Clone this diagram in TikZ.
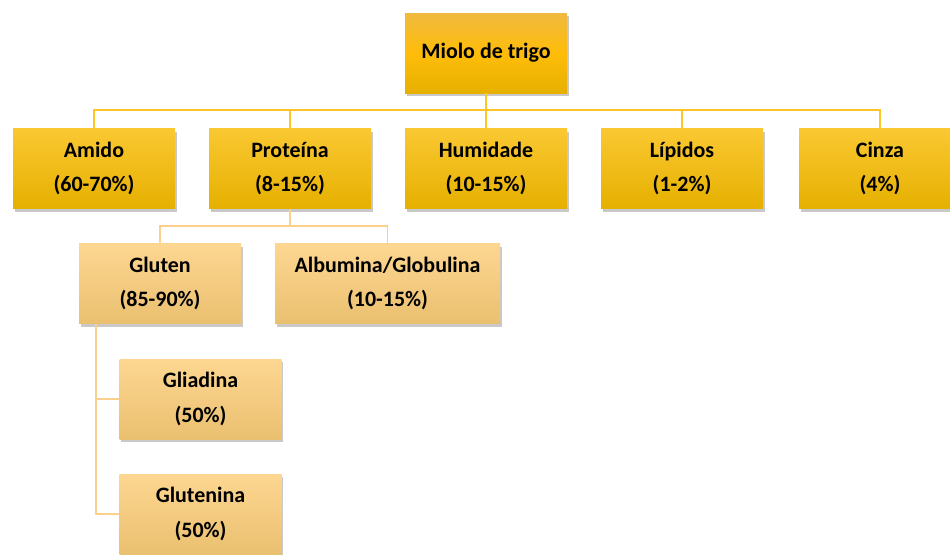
\documentclass[tikz,border=0pt]{standalone}
\usepackage{fontspec}
\setmainfont{Carlito}
\usetikzlibrary{positioning,shadows}
\definecolor{goldtop}{RGB}{250,200,50}
\definecolor{goldmid}{RGB}{255,192,10}
\definecolor{goldbot}{RGB}{230,176,0}
\definecolor{roottop}{RGB}{240,186,64}
\definecolor{paletop}{RGB}{253,214,145}
\definecolor{palemid}{RGB}{252,210,135}
\definecolor{palebot}{RGB}{234,192,112}
\definecolor{linegold}{RGB}{255,196,40}
\definecolor{linepale}{RGB}{250,208,140}

\begin{document}
\begin{tikzpicture}[
    every node/.style={font=\bfseries\fontsize{12.5}{19.5}\selectfont, align=center},
    boxA/.style={minimum width=3.24cm, minimum height=1.6cm, inner sep=0pt,
      top color=goldtop, middle color=goldmid, bottom color=goldbot,
      drop shadow={shadow xshift=0.03cm, shadow yshift=-0.06cm, opacity=0.3, fill=black!70}},
    rootbox/.style={boxA, top color=roottop, middle color=goldmid!95!orange},
    boxB/.style={boxA, top color=paletop, middle color=palemid, bottom color=palebot},
    lnA/.style={draw=linegold, line width=1pt},
    lnB/.style={draw=linepale, line width=1pt}
  ]
  \useasboundingbox (0,0) rectangle (19,-11.08);

  % top level
  \node[rootbox] (miolo) at (9.72,-1.06) {Miolo de trigo};

  % composition
  \node[boxA] (amido)   at (1.88,-3.37)  {Amido\\(60-70\%)};
  \node[boxA] (prot)    at (5.80,-3.37)  {Proteína\\(8-15\%)};
  \node[boxA] (humid)   at (9.72,-3.37)  {Humidade\\(10-15\%)};
  \node[boxA] (lip)     at (13.64,-3.37) {Lípidos\\(1-2\%)};
  \node[boxA] (cinza)   at (17.60,-3.37) {Cinza\\(4\%)};

  % proteins
  \node[boxB] (gluten)  at (3.20,-5.67) {Gluten\\(85-90\%)};
  \node[boxB, minimum width=4.5cm] (album) at (7.75,-5.67) {Albumina/Globulina\\(10-15\%)};

  % gluten fractions
  \node[boxB] (gliad)   at (4.01,-7.98)  {Gliadina\\(50\%)};
  \node[boxB] (glutn)   at (4.01,-10.28) {Glutenina\\(50\%)};

  \foreach \n in {amido,prot,humid,lip,cinza}
    \draw[lnA] (miolo.south) -- ++(0,-0.34) -| (\n.north);
  \foreach \n in {gluten,album}
    \draw[lnB] (prot.south) -- ++(0,-0.34) -| (\n.north);
  \foreach \n in {gliad,glutn}
    \draw[lnB] ([xshift=0.34cm]gluten.south west) |- (\n.west);
\end{tikzpicture}
\end{document}
